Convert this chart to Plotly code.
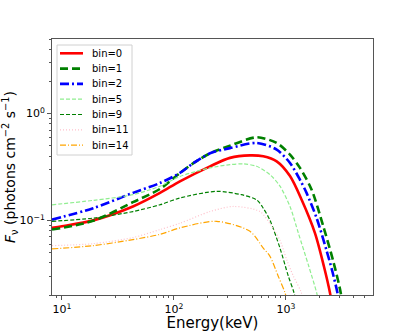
import plotly.graph_objects as go

# spectra (energy in keV, F_nu in photons cm^-2 s^-1)
e_bin0 = [8.15, 10, 19, 43, 75, 113, 210, 316, 477, 627, 826, 1086, 1380, 1815, 2183, 2470, 2700]
f_bin0 = [0.085, 0.088, 0.100, 0.135, 0.181, 0.232, 0.321, 0.385, 0.406, 0.398, 0.357, 0.26, 0.156, 0.076, 0.037, 0.021, 0.012]

e_bin1 = [8.15, 19, 43, 75, 113, 150, 210, 316, 547, 826, 1086, 1334, 1694, 2153, 2650, 3080, 3300]
f_bin1 = [0.082, 0.099, 0.148, 0.197, 0.278, 0.345, 0.425, 0.50, 0.60, 0.531, 0.413, 0.31, 0.194, 0.088, 0.041, 0.021, 0.012]

e_bin2 = [8.15, 19, 43, 75, 113, 150, 210, 316, 547, 826, 1086, 1334, 1530, 1879, 2306, 2600, 2880, 3100]
f_bin2 = [0.1016, 0.13, 0.181, 0.224, 0.278, 0.345, 0.425, 0.475, 0.531, 0.46, 0.345, 0.24, 0.18, 0.105, 0.052, 0.033, 0.021, 0.013]

e_bin5 = [8.15, 19, 43, 75, 113, 210, 316, 416, 547, 720, 884, 1086, 1290, 1600, 1879, 2050]
f_bin5 = [0.14, 0.154, 0.174, 0.209, 0.258, 0.31, 0.333, 0.338, 0.321, 0.268, 0.209, 0.135, 0.076, 0.037, 0.021, 0.014]

e_bin9 = [8.15, 19, 43, 75, 113, 240, 400, 550, 627, 720, 884, 1050, 1180, 1300]
f_bin9 = [0.098, 0.105, 0.121, 0.14, 0.162, 0.187, 0.174, 0.155, 0.13, 0.1, 0.055, 0.03, 0.021, 0.013]

e_bin11 = [8.15, 19, 43, 75, 113, 210, 339, 586, 720, 884, 1013, 1165, 1373, 1500]
f_bin11 = [0.058, 0.0605, 0.069, 0.082, 0.094, 0.121, 0.135, 0.121, 0.093, 0.065, 0.043, 0.03, 0.021, 0.014]

e_bin14 = [8.15, 19, 43, 75, 113, 240, 477, 627, 720, 853, 980, 1080]
f_bin14 = [0.054, 0.058, 0.066, 0.074, 0.085, 0.098, 0.079, 0.055, 0.046, 0.03, 0.021, 0.014]

labels = ["bin=0", "bin=1", "bin=2", "bin=5", "bin=9", "bin=11", "bin=14"]

x_major = [10, 100, 1000]
x_major_text = ["10<sup>1</sup>", "10<sup>2</sup>", "10<sup>3</sup>"]
y_major = [0.1, 1]
y_major_text = ["10<sup>\u22121</sup>", "10<sup>0</sup>"]

styles = [
    dict(color="red", width=2.6),
    dict(color="green", width=2.6, dash="8px,4px"),
    dict(color="blue", width=2.6, dash="9px,3px,2px,3px"),
    dict(color="lightgreen", width=1.2, dash="4px,2px"),
    dict(color="green", width=1.2, dash="4px,2px"),
    dict(color="pink", width=1.2, dash="1px,2px"),
    dict(color="orange", width=1.2, dash="6px,2px,1px,2px"),
]
data = [(e_bin0, f_bin0), (e_bin1, f_bin1), (e_bin2, f_bin2), (e_bin5, f_bin5),
        (e_bin9, f_bin9), (e_bin11, f_bin11), (e_bin14, f_bin14)]

fig = go.Figure()
for (e, f), line, name in zip(data, styles, labels):
    fig.add_trace(go.Scatter(x=e, y=f, mode="lines", name=name, showlegend=False,
                             line=dict(shape="spline", smoothing=0.8, **line)))

# plot area in pixels (matches the matplotlib axes box)
W, H = 415, 332
L, R, T, B = 52, 42, 39, 37
pw, ph = W - L - R, H - T - B


def px(x):
    return (x - L) / pw


def py(y):
    return 1 - (y - T) / ph


# matplotlib-like legend box, drawn by hand so the rows are as tight as the original
fig.add_shape(type="rect", xref="paper", yref="paper",
              x0=px(57), x1=px(132), y0=py(155), y1=py(45),
              line=dict(color="#d0d0d0", width=1), fillcolor="rgba(255,255,255,0.8)", layer="above")
for i, (line, name) in enumerate(zip(styles, labels)):
    yc = 53.3 + i * 15.3
    fig.add_shape(type="line", xref="paper", yref="paper",
                  x0=px(60), x1=px(83), y0=py(yc), y1=py(yc), layer="above",
                  line=dict(color=line["color"], width=line["width"], dash=line.get("dash", "solid")))
    fig.add_annotation(xref="paper", yref="paper", x=px(90), y=py(yc), text=name,
                       xanchor="left", yanchor="middle", showarrow=False,
                       font=dict(family="DejaVu Sans", size=10, color="black"))

x_minor = [m * d for d in (1, 10, 100, 1000) for m in range(2, 10)]
y_minor = [m * d for d in (0.01, 0.1, 1) for m in range(2, 10)]

axis_common = dict(type="log", showgrid=False, zeroline=False, automargin=False,
                   showline=True, linecolor="#555", linewidth=1, mirror=True,
                   ticks="outside", ticklen=4, tickcolor="#555",
                   tickfont=dict(family="DejaVu Sans", size=11, color="black"))

fig.update_xaxes(range=[0.911, 3.777], tickmode="array", tickvals=x_major, ticktext=x_major_text,
                 minor=dict(tickmode="array", tickvals=x_minor, ticks="outside", ticklen=2, tickcolor="#555"),
                 title=dict(text="Energy(keV)", font=dict(family="DejaVu Sans", size=15, color="black"), standoff=5),
                 **axis_common)
fig.update_yaxes(range=[-1.699, 0.699], tickmode="array", tickvals=y_major, ticktext=y_major_text,
                 minor=dict(tickmode="array", tickvals=y_minor, ticks="outside", ticklen=2, tickcolor="#555"),
                 title=dict(text="<i>F</i><sub>\u03bd</sub> (photons cm<sup>\u22122</sup> s<sup>\u22121</sup>)",
                            font=dict(family="DejaVu Sans", size=14, color="black"), standoff=2),
                 **axis_common)

fig.update_layout(
    width=W, height=H,
    margin=dict(l=L, r=R, t=T, b=B),
    paper_bgcolor="white", plot_bgcolor="white",
    font=dict(family="DejaVu Sans", color="black"),
    showlegend=False,
)

# the page body has a default 8px margin; drop it so the figure sits at the window origin
fig.write_html("out.html", config={"displayModeBar": False},
               post_script="document.body.style.margin='0px';")
